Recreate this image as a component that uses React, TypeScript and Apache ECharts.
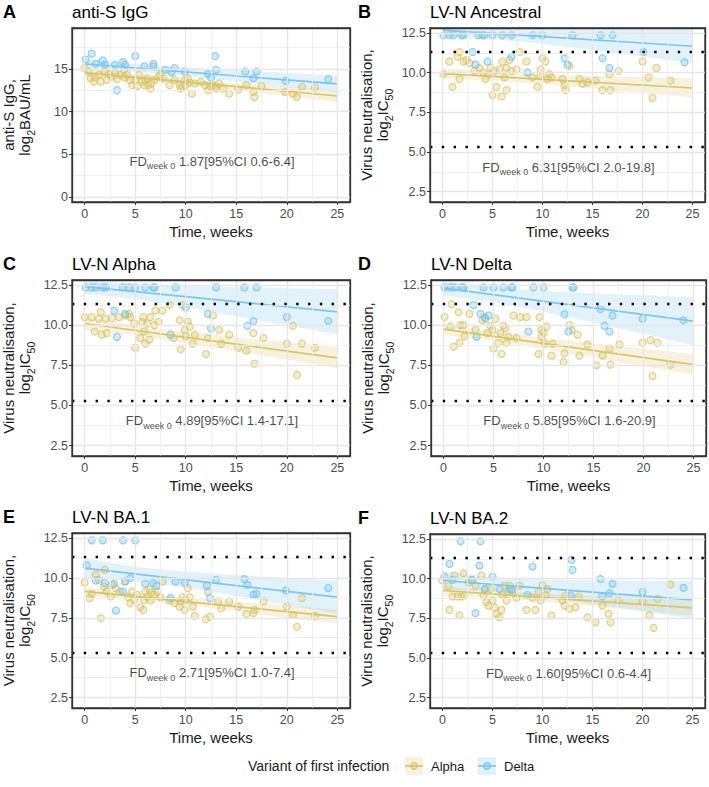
import { useEffect, useRef } from "react";
import * as echarts from "echarts";

const FONT = "'Liberation Sans', Arial, Helvetica, sans-serif";

// Variant colours
const ALPHA_LINE = "#D8C469";
const DELTA_LINE = "#7CC6EC";
const ALPHA_FILL = "rgba(221,204,119,0.45)";
const ALPHA_EDGE = "rgba(214,192,98,0.85)";
const DELTA_FILL = "rgba(136,204,238,0.5)";
const DELTA_EDGE = "rgba(112,192,234,0.9)";
const ALPHA_BAND = "rgba(221,204,119,0.25)";
const DELTA_BAND = "rgba(136,204,238,0.25)";
const FRAME = "#333333";

// Panels
const panelLetters = ["A", "B", "C", "D", "E", "F"];
const panelTitles = ["anti-S IgG", "LV-N Ancestral", "LV-N Alpha", "LV-N Delta", "LV-N BA.1", "LV-N BA.2"];
const fdLabels = [
  "1.87[95%CI 0.6-6.4]",
  "6.31[95%CI 2.0-19.8]",
  "4.89[95%CI 1.4-17.1]",
  "5.85[95%CI 1.6-20.9]",
  "2.71[95%CI 1.0-7.4]",
  "1.60[95%CI 0.6-4.4]",
];

// Axis ticks
const xMajor = [0, 5, 10, 15, 20, 25];
const xMinor = [2.5, 7.5, 12.5, 17.5, 22.5];
const yMajorIgG = [0, 5, 10, 15];
const yMinorIgG = [2.5, 7.5, 12.5, 17.5];
const yMajorNeut = [2.5, 5, 7.5, 10, 12.5];
const yMinorNeut = [3.75, 6.25, 8.75, 11.25];

// Assay limits of detection, log2 IC50 (log2 2560, log2 40)
const detectionLimits = [11.32, 5.32];

// Observations: [week, log2 titre]
const igAlphaPts = [
  [0, 15.1], [0.4, 14.7], [0.6, 13.9], [0.9, 13.5], [1.0, 14.0], [1.4, 14.3], [1.6, 13.5], [2.0, 14.7], [2.2, 13.7],
  [2.4, 14.4], [2.7, 14.1], [3.0, 14.5], [3.2, 13.8], [3.5, 14.3], [3.9, 14.9], [4.0, 14.0], [4.2, 14.3], [4.5, 13.7],
  [4.7, 13.1], [5.0, 13.7], [5.2, 13.0], [5.4, 14.3], [5.7, 13.5], [5.9, 13.1], [6.0, 13.6], [6.2, 13.9], [6.3, 13.1],
  [6.5, 12.7], [6.6, 13.3], [6.9, 13.7], [7.3, 14.1], [7.5, 14.3], [7.8, 13.9], [8.4, 13.1], [8.9, 13.7], [9.4, 13.1],
  [9.5, 12.7], [9.7, 13.0], [9.9, 13.7], [10.0, 13.1], [10.2, 13.9], [10.4, 13.4], [10.6, 12.1], [10.9, 13.3],
  [11.5, 13.5], [11.9, 13.1], [12.2, 12.5], [12.4, 13.0], [12.7, 13.1], [12.9, 12.9], [13.0, 12.7], [13.3, 13.3],
  [13.7, 12.7], [14.3, 12.1], [15.2, 12.6], [16.0, 13.1], [16.7, 12.3], [16.8, 11.7], [17.5, 13.0], [19.8, 12.3],
  [20.6, 12.1], [21.0, 11.7], [21.5, 12.9], [22.8, 12.8],
];
const igDeltaPts = [
  [0.1, 16.1], [0.7, 16.8], [1.1, 15.6], [1.8, 16.0], [2.0, 15.5], [3.0, 15.5], [3.2, 12.5], [3.8, 15.8], [4.0, 15.5],
  [5.0, 16.5], [5.9, 15.3], [6.8, 15.6], [6.8, 15.3], [8.0, 14.9], [8.6, 14.6], [8.9, 15.1], [9.9, 14.7], [12.2, 14.4],
  [12.5, 14.0], [12.9, 16.5], [13.0, 14.9], [15.9, 14.7], [16.7, 13.9], [17.0, 14.7], [19.9, 13.6], [24.1, 13.8],
];

const ancAlphaPts = [
  [0.1, 9.9], [0.7, 10.7], [1.0, 9.1], [1.5, 11.0], [1.7, 9.6], [1.7, 11.3], [2.1, 10.7], [2.4, 10.8], [2.7, 10.6],
  [3.2, 10.1], [3.7, 10.3], [4.1, 10.0], [4.3, 9.6], [4.6, 9.9], [4.8, 10.3], [5.0, 8.6], [5.2, 10.1], [5.4, 9.1],
  [5.7, 10.2], [5.9, 8.5], [6.0, 10.7], [6.2, 9.7], [6.4, 10.3], [6.4, 8.9], [6.7, 10.8], [6.9, 10.1], [7.4, 10.2],
  [7.7, 11.3], [8.4, 10.7], [9.0, 9.7], [9.5, 9.1], [9.8, 10.2], [9.8, 9.8], [10.0, 10.9], [10.3, 10.7], [10.5, 9.6],
  [10.7, 9.9], [10.9, 9.7], [12.0, 9.6], [12.2, 9.2], [12.3, 8.9], [12.7, 10.4], [13.7, 9.6], [14.0, 9.3], [14.5, 9.4],
  [15.3, 9.5], [16.0, 8.9], [16.7, 9.9], [16.8, 8.9], [17.6, 10.1], [20.0, 10.7], [20.6, 9.7], [21.0, 8.4],
  [21.4, 10.3], [22.8, 9.5],
];
const ancDeltaPts = [
  [0.1, 12.35], [0.7, 12.35], [1.1, 12.35], [1.9, 12.35], [2.1, 12.35], [3.0, 11.3], [3.3, 10.5], [3.6, 12.35],
  [4.0, 12.35], [4.2, 12.35], [4.5, 10.7], [5.0, 12.35], [6.0, 12.35], [6.9, 12.35], [6.9, 11.0], [8.5, 10.0],
  [9.0, 12.35], [10.0, 12.35], [12.2, 10.9], [12.5, 10.5], [13.0, 12.35], [15.8, 12.35], [16.0, 10.9], [16.7, 10.3],
  [17.0, 12.35], [20.1, 11.3], [24.2, 10.65],
];

const alpAlphaPts = [
  [0, 10.5], [0.7, 10.5], [1.0, 9.6], [1.4, 10.4], [1.6, 10.8], [1.7, 9.4], [2.1, 10.4], [2.2, 9.5], [2.7, 10.45],
  [3.4, 10.5], [4.0, 10.6], [4.4, 10.7], [4.5, 10.5], [5.0, 8.6], [4.9, 10.1], [5.5, 9.2], [5.7, 10.2], [5.9, 9.6],
  [6.0, 8.85], [5.8, 10.5], [6.2, 10.1], [6.4, 9.1], [6.5, 10.5], [6.9, 10.0], [7.0, 10.9], [7.3, 10.2], [7.7, 10.9],
  [8.4, 11.25], [8.8, 9.2], [9.4, 10.3], [9.5, 8.5], [9.7, 11.25], [9.9, 9.7], [10.0, 9.3], [10.2, 10.2], [10.4, 9.9],
  [10.7, 8.85], [10.9, 9.4], [12.0, 8.2], [12.2, 9.2], [12.7, 10.6], [13.3, 9.7], [13.5, 8.85], [14.3, 9.4],
  [15.2, 8.6], [16.0, 8.4], [16.7, 9.5], [16.8, 7.6], [17.7, 9.2], [20.0, 8.85], [20.6, 9.96], [21.0, 6.9],
  [21.5, 8.85], [22.8, 8.6],
];
const alpDeltaPts = [
  [0.1, 12.35], [0.7, 12.35], [1.1, 12.35], [1.8, 12.35], [2.1, 12.35], [2.9, 10.9], [3.2, 9.27], [3.8, 12.35],
  [4.0, 10.7], [4.4, 12.35], [5.0, 12.35], [6.0, 12.35], [6.8, 12.35], [6.9, 12.35], [8.5, 9.4], [9.0, 12.35],
  [10.0, 11.1], [12.2, 10.7], [12.5, 9.8], [13.0, 12.35], [15.8, 12.35], [16.1, 9.96], [16.7, 10.25], [17.0, 12.35],
  [20.0, 10.5], [24.1, 10.25],
];

const delAlphaPts = [
  [0.1, 10.5], [0.7, 9.9], [1.0, 8.65], [0.8, 11.3], [1.5, 10.8], [1.6, 8.9], [1.7, 10.0], [2.0, 10.0], [2.1, 9.3],
  [2.6, 10.7], [3.2, 9.7], [3.9, 10.3], [4.1, 10.5], [4.4, 9.5], [4.7, 9.96], [4.9, 9.7], [5.0, 8.54], [5.2, 10.4],
  [5.5, 8.9], [5.7, 9.5], [5.8, 8.2], [6.0, 9.96], [6.2, 9.8], [6.3, 8.9], [6.5, 9.27], [7.0, 10.6], [7.3, 9.2],
  [7.7, 10.5], [8.3, 10.5], [9.5, 8.2], [9.6, 10.5], [9.8, 9.27], [9.8, 9.7], [10.0, 9.55], [10.1, 8.85], [10.3, 9.9],
  [10.8, 8.1], [10.9, 8.85], [12.0, 7.7], [12.1, 8.25], [12.6, 10.0], [12.8, 9.7], [13.4, 9.4], [13.6, 8.1],
  [14.4, 8.8], [15.3, 7.5], [15.9, 8.1], [16.6, 8.54], [16.7, 7.54], [17.6, 8.8], [19.9, 8.9], [20.7, 9.06],
  [20.9, 6.83], [21.4, 8.9], [22.7, 7.54],
];
const delDeltaPts = [
  [0.1, 12.35], [0.7, 12.35], [1.1, 12.35], [1.9, 12.35], [2.0, 12.35], [3.0, 11.25], [3.3, 9.27], [3.7, 10.7],
  [4.0, 12.35], [4.2, 10.4], [4.5, 10.6], [5.0, 12.35], [6.0, 12.35], [6.8, 12.35], [6.9, 12.35], [8.5, 9.6],
  [9.0, 12.35], [10.0, 12.35], [12.1, 10.67], [12.5, 9.6], [12.9, 12.35], [13.0, 12.35], [15.7, 11.0], [16.1, 9.96],
  [16.9, 10.6], [16.6, 9.6], [19.9, 10.4], [24.0, 10.3],
];

const ba1AlphaPts = [
  [0, 9.71], [0.5, 8.73], [0.7, 9.0], [1.1, 10.2], [1.4, 9.88], [1.6, 7.47], [1.9, 9.46], [2.0, 10.5], [2.2, 9.15],
  [2.6, 8.83], [2.7, 9.56], [3.1, 9.35], [3.5, 9.15], [4.0, 9.77], [4.3, 8.79], [4.5, 8.41], [4.7, 9.15], [4.9, 8.62],
  [5.2, 8.94], [5.5, 8.16], [5.8, 7.99], [5.9, 8.62], [6.0, 9.15], [6.2, 8.83], [6.4, 9.29], [6.5, 8.58], [6.6, 9.08],
  [6.9, 8.94], [7.2, 9.15], [7.5, 8.79], [7.7, 9.77], [8.4, 8.58], [8.9, 8.41], [9.4, 8.2], [9.5, 8.52], [9.7, 8.79],
  [9.9, 7.99], [10.0, 8.62], [10.2, 9.35], [10.4, 8.79], [10.7, 8.2], [10.9, 7.62], [12.0, 7.41], [12.2, 9.15],
  [12.4, 7.57], [13.2, 8.52], [13.5, 8.1], [14.3, 8.52], [15.2, 8.2], [16.0, 7.74], [16.7, 7.78], [16.8, 7.99],
  [17.7, 8.52], [20.0, 8.2], [20.6, 7.68], [21.0, 6.94], [21.5, 8.73], [22.8, 7.62],
];
const ba1DeltaPts = [
  [0.7, 12.35], [1.8, 12.35], [3.8, 12.35], [5.0, 12.35], [0.2, 10.78], [1.1, 9.84], [2.0, 9.67], [2.9, 9.63],
  [3.1, 7.95], [3.8, 9.15], [4.0, 9.77], [4.5, 9.98], [6.0, 9.63], [6.8, 9.67], [7.1, 9.5], [8.5, 8.73], [9.0, 9.77],
  [9.9, 9.71], [12.1, 9.5], [12.4, 8.73], [13.0, 9.88], [15.8, 9.92], [16.1, 9.56], [16.7, 8.94], [17.0, 9.0],
  [19.9, 9.21], [24.1, 9.36],
];

const ba2AlphaPts = [
  [0, 9.88], [0.6, 9.5], [0.7, 8.03], [1.0, 8.87], [1.2, 10.2], [1.5, 8.87], [1.7, 7.68], [1.9, 8.87], [2.1, 10.34],
  [2.2, 8.94], [2.6, 9.77], [3.0, 9.88], [3.3, 9.56], [3.9, 10.2], [4.1, 8.94], [4.3, 9.35], [4.4, 8.52], [4.6, 8.3],
  [4.8, 9.35], [5.0, 8.62], [5.2, 8.16], [5.4, 7.78], [5.7, 7.57], [5.9, 8.03], [6.0, 9.0], [6.2, 9.56], [6.4, 8.62],
  [6.5, 9.15], [6.7, 9.56], [7.0, 9.25], [7.4, 8.79], [7.7, 9.56], [8.4, 8.03], [9.0, 8.79], [9.3, 8.03], [9.6, 9.15],
  [9.8, 8.62], [10.0, 9.56], [10.3, 8.94], [10.5, 9.35], [10.9, 7.68], [12.0, 8.62], [12.2, 8.3], [12.3, 8.94],
  [12.7, 8.1], [13.3, 8.2], [13.6, 8.87], [14.5, 7.57], [15.3, 7.26], [16.0, 8.3], [16.6, 7.78], [16.8, 7.26],
  [17.6, 8.62], [20.0, 8.58], [20.7, 7.68], [21.1, 6.9], [21.5, 8.73], [22.8, 9.63],
];
const ba2DeltaPts = [
  [0.2, 10.13], [0.7, 10.93], [1.0, 9.92], [1.8, 12.35], [2.9, 9.92], [3.3, 7.83], [3.8, 12.35], [3.7, 10.82],
  [4.2, 9.35], [5.0, 10.13], [5.7, 9.35], [6.7, 9.35], [6.9, 9.29], [8.5, 8.96], [9.0, 10.76], [12.9, 11.18],
  [13.0, 10.55], [12.8, 8.94], [15.8, 9.98], [16.0, 8.87], [17.0, 9.67], [16.7, 9.08], [20.0, 9.15], [24.1, 9.42],
];

const alphaPoints = [igAlphaPts, ancAlphaPts, alpAlphaPts, delAlphaPts, ba1AlphaPts, ba2AlphaPts];
const deltaPoints = [igDeltaPts, ancDeltaPts, alpDeltaPts, delDeltaPts, ba1DeltaPts, ba2DeltaPts];

// Fitted decline (log2 titre at week 0 and week 25)
const fitWeeks = [0, 25];
const fitStartAlpha = [14.57, 9.94, 10.1, 9.75, 9.15, 9.25];
const fitEndAlpha = [11.83, 9.03, 7.96, 7.54, 7.57, 8.16];
const fitStartDelta = [15.59, 12.67, 12.4, 12.3, 10.61, 9.88];
const fitEndDelta = [13.24, 11.66, 10.83, 10.25, 8.79, 8.66];

// 95% confidence band half-widths along the fit
const bandWeeks = [0, 5, 10, 15, 20, 25];
const bandHalfAlpha = [
  [0.55, 0.35, 0.3, 0.4, 0.55, 0.7],
  [0.35, 0.25, 0.3, 0.4, 0.5, 0.6],
  [0.4, 0.3, 0.35, 0.45, 0.55, 0.65],
  [0.35, 0.3, 0.35, 0.45, 0.55, 0.65],
  [0.3, 0.2, 0.22, 0.3, 0.38, 0.45],
  [0.3, 0.22, 0.25, 0.32, 0.42, 0.5],
];
const bandHalfDelta = [
  [0.6, 0.45, 0.5, 0.65, 0.85, 1.0],
  [0.4, 0.35, 0.45, 0.65, 0.85, 1.05],
  [0.45, 0.45, 0.65, 0.9, 1.15, 1.4],
  [0.45, 0.45, 0.65, 0.9, 1.2, 1.5],
  [0.6, 0.45, 0.5, 0.65, 0.85, 1.05],
  [0.6, 0.45, 0.55, 0.75, 0.95, 1.2],
];

// Layout of the six panels (page pixels)
const LAYOUT = [
  { left: 72, top: 28, width: 278, height: 174 },
  { left: 430, top: 28, width: 275, height: 174 },
  { left: 72, top: 280, width: 278, height: 176 },
  { left: 431, top: 280, width: 275, height: 176 },
  { left: 72, top: 533, width: 278, height: 175 },
  { left: 430, top: 534, width: 275, height: 174 },
];
const X_RANGE = [-1.25, 26.25];
const Y_RANGE_IGG = [-0.6, 19.8];
const Y_RANGE_NEUT = [1.85, 12.81];

const TEXT = "#1A1A1A";
const TICK_TEXT = "#4D4D4D";

function buildOption() {
  const grid: any[] = [];
  const xAxis: any[] = [];
  const yAxis: any[] = [];
  const series: any[] = [];
  const graphic: any[] = [];

  const frameLine = { show: true, onZero: false, lineStyle: { color: FRAME, width: 1.3 } };

  LAYOUT.forEach((g, i) => {
    const isIgG = i === 0;
    const yRange = isIgG ? Y_RANGE_IGG : Y_RANGE_NEUT;
    const yMajor = isIgG ? yMajorIgG : yMajorNeut;
    const yMinor = isIgG ? yMinorIgG : yMinorNeut;

    grid.push({
      left: g.left, top: g.top, width: g.width, height: g.height,
      show: true, borderColor: FRAME, borderWidth: 1.3, backgroundColor: "#FFFFFF",
      containLabel: false, outerBoundsMode: "none",
    });

    // major x axis (bottom edge of the frame)
    xAxis.push({
      gridIndex: i, type: "value", min: X_RANGE[0], max: X_RANGE[1], position: "bottom",
      axisLine: frameLine,
      axisTick: { show: true, customValues: xMajor, length: 3, lineStyle: { color: FRAME, width: 1 } },
      axisLabel: { show: true, customValues: xMajor, color: TICK_TEXT, fontSize: 12.5, fontFamily: FONT, margin: 5 },
      splitLine: { show: true, lineStyle: { color: "#E6E6E6", width: 1.3 } },
      name: "Time, weeks", nameLocation: "middle", nameGap: 22,
      nameTextStyle: { color: TEXT, fontSize: 15, fontFamily: FONT },
      z: 5,
    });
    // minor x grid (top edge of the frame)
    xAxis.push({
      gridIndex: i, type: "value", min: X_RANGE[0], max: X_RANGE[1], position: "top",
      axisLine: frameLine,
      axisTick: { show: false, customValues: xMinor },
      axisLabel: { show: false, customValues: xMinor },
      splitLine: { show: true, lineStyle: { color: "#EDEDED", width: 0.8 } },
      z: 5,
    });

    const yName = isIgG
      ? "{t|anti-S IgG,}\n{t|log}{s|2}{t|BAU/mL}"
      : "{t|Virus neutralisation,}\n{t|log}{s|2}{t|IC}{s|50}";

    // major y axis (left edge of the frame)
    yAxis.push({
      gridIndex: i, type: "value", min: yRange[0], max: yRange[1], position: "left",
      axisLine: frameLine,
      axisTick: { show: true, customValues: yMajor, length: 3, lineStyle: { color: FRAME, width: 1 } },
      axisLabel: {
        show: true, customValues: yMajor, color: TICK_TEXT, fontSize: 12.5, fontFamily: FONT, margin: 4,
        formatter: (v: number) => (isIgG ? String(v) : v.toFixed(1)),
      },
      splitLine: { show: true, lineStyle: { color: "#E6E6E6", width: 1.3 } },
      name: yName, nameLocation: "middle", nameRotate: 90, nameGap: 36,
      nameTextStyle: {
        color: TEXT, fontFamily: FONT, align: "center",
        rich: {
          t: { fontSize: 15, lineHeight: 16, verticalAlign: "top", color: TEXT, fontFamily: FONT },
          s: { fontSize: 10.5, verticalAlign: "top", padding: [8, 0, 0, 0], color: TEXT, fontFamily: FONT },
        },
      },
      z: 5,
    });
    // minor y grid (right edge of the frame)
    yAxis.push({
      gridIndex: i, type: "value", min: yRange[0], max: yRange[1], position: "right",
      axisLine: frameLine,
      axisTick: { show: false, customValues: yMinor },
      axisLabel: { show: false, customValues: yMinor },
      splitLine: { show: true, lineStyle: { color: "#EDEDED", width: 0.8 } },
      z: 5,
    });

    const xi = i * 2;
    const yi = i * 2;

    const band = (start: number, end: number, half: number[]) =>
      bandWeeks.map((w, k) => {
        const fit = start + ((end - start) * (w - fitWeeks[0])) / (fitWeeks[1] - fitWeeks[0]);
        return [w, Math.max(fit - half[k], yRange[0]), Math.min(fit + half[k], yRange[1])];
      });

    const addBand = (data: number[][], fill: string) => {
      series.push({
        type: "custom", xAxisIndex: xi, yAxisIndex: yi, silent: true, clip: true, z: 2,
        data, encode: { x: 0, y: [1, 2] },
        renderItem: (params: any, api: any) => {
          if (params.dataIndex !== 0) return null;
          const upper = data.map((d) => api.coord([d[0], d[2]]));
          const lower = data.map((d) => api.coord([d[0], d[1]])).reverse();
          return { type: "polygon", shape: { points: upper.concat(lower) }, style: { fill } };
        },
      });
    };

    addBand(band(fitStartAlpha[i], fitEndAlpha[i], bandHalfAlpha[i]), ALPHA_BAND);
    addBand(band(fitStartDelta[i], fitEndDelta[i], bandHalfDelta[i]), DELTA_BAND);

    series.push({
      type: "scatter", name: "Alpha", xAxisIndex: xi, yAxisIndex: yi, data: alphaPoints[i], symbolSize: 7, z: 3,
      itemStyle: { color: ALPHA_FILL, borderColor: ALPHA_EDGE, borderWidth: 1.2 },
    });
    series.push({
      type: "scatter", name: "Delta", xAxisIndex: xi, yAxisIndex: yi, data: deltaPoints[i], symbolSize: 7, z: 3,
      itemStyle: { color: DELTA_FILL, borderColor: DELTA_EDGE, borderWidth: 1.2 },
    });

    series.push({
      type: "line", xAxisIndex: xi, yAxisIndex: yi, showSymbol: false, silent: true, z: 4,
      data: [[fitWeeks[0], fitStartAlpha[i]], [fitWeeks[1], fitEndAlpha[i]]],
      lineStyle: { color: ALPHA_LINE, width: 1.7 },
    });
    series.push({
      type: "line", xAxisIndex: xi, yAxisIndex: yi, showSymbol: false, silent: true, z: 4,
      data: [[fitWeeks[0], fitStartDelta[i]], [fitWeeks[1], fitEndDelta[i]]],
      lineStyle: { color: DELTA_LINE, width: 1.7 },
      markLine: isIgG
        ? undefined
        : {
            silent: true, symbol: ["none", "none"], label: { show: false },
            lineStyle: { color: "#000000", width: 2.4, type: [2.4, 9.4], cap: "butt" },
            data: detectionLimits.map((v) => ({ yAxis: v })),
          },
    });

    // fold-difference annotation
    series.push({
      type: "scatter", xAxisIndex: xi, yAxisIndex: yi, silent: true, z: 6,
      data: [[12.6, isIgG ? 4.0 : 3.95]], symbolSize: 1, itemStyle: { color: "rgba(0,0,0,0)" },
      label: {
        show: true, position: "inside",
        formatter: `{a|FD}{b|week 0}{a| ${fdLabels[i]}}`,
        rich: {
          a: { fontSize: 13, lineHeight: 15, verticalAlign: "top", color: TEXT, fontFamily: FONT },
          b: { fontSize: 9, verticalAlign: "top", padding: [7, 0, 0, 0], color: TEXT, fontFamily: FONT },
        },
      },
    });

    // panel letter and title
    const titleY = g.top - 16;
    graphic.push({
      type: "text", x: i % 2 === 0 ? 3 : 358, y: titleY, silent: true,
      style: { text: panelLetters[i], fill: "#000", fontSize: 18, fontWeight: "bold", fontFamily: FONT, verticalAlign: "middle", align: "left" },
    });
    graphic.push({
      type: "text", x: g.left, y: titleY, silent: true,
      style: { text: panelTitles[i], fill: "#000", fontSize: 17, fontFamily: FONT, verticalAlign: "middle", align: "left" },
    });
  });

  // legend
  const legendY = 766;
  graphic.push({
    type: "text", x: 248, y: legendY, silent: true,
    style: { text: "Variant of first infection", fill: TEXT, fontSize: 14, fontFamily: FONT, verticalAlign: "middle", align: "left" },
  });
  const keys = [
    { x: 405, label: "Alpha", band: ALPHA_BAND, line: ALPHA_LINE, fill: ALPHA_FILL, edge: ALPHA_EDGE },
    { x: 478, label: "Delta", band: DELTA_BAND, line: DELTA_LINE, fill: DELTA_FILL, edge: DELTA_EDGE },
  ];
  keys.forEach((k) => {
    graphic.push({ type: "rect", silent: true, shape: { x: k.x, y: legendY - 9, width: 18, height: 18 }, style: { fill: k.band } });
    graphic.push({ type: "line", silent: true, shape: { x1: k.x, y1: legendY, x2: k.x + 18, y2: legendY }, style: { stroke: k.line, lineWidth: 1.7 } });
    graphic.push({ type: "circle", silent: true, shape: { cx: k.x + 9, cy: legendY, r: 3.3 }, style: { fill: k.fill, stroke: k.edge, lineWidth: 1.2 } });
    graphic.push({
      type: "text", x: k.x + 26, y: legendY, silent: true,
      style: { text: k.label, fill: TEXT, fontSize: 13, fontFamily: FONT, verticalAlign: "middle", align: "left" },
    });
  });

  return {
    animation: false,
    backgroundColor: "#FFFFFF",
    textStyle: { fontFamily: FONT },
    grid, xAxis, yAxis, series, graphic,
  };
}

export default function App() {
  const ref = useRef<HTMLDivElement>(null);
  useEffect(() => {
    if (!ref.current) return;
    const chart = echarts.init(ref.current, undefined, { renderer: "svg" });
    chart.setOption(buildOption() as any);
    return () => chart.dispose();
  }, []);
  return (
    <div
      ref={ref}
      style={{ position: "fixed", left: 0, top: 0, width: 709, height: 787, background: "#FFFFFF" }}
    />
  );
}
